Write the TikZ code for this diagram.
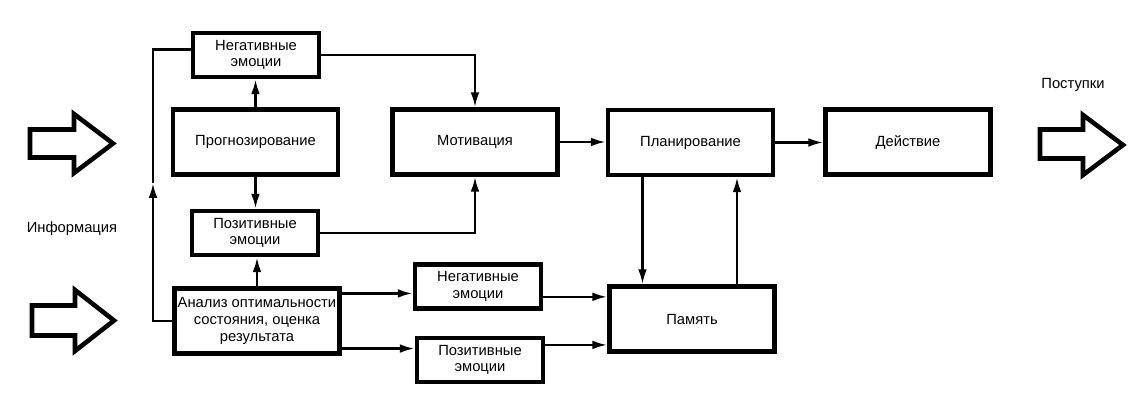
\documentclass[tikz,border=0pt]{standalone}
\usepackage{fontspec}
\setmainfont{Liberation Sans}
\usetikzlibrary{arrows.meta,positioning,calc}

\begin{document}
\begin{tikzpicture}[x=0.02cm, y=-0.02cm, >={Latex[length=8.5pt,width=5pt]},
  font={\fontsize{8.4}{9.5}\selectfont}]
  \tikzstyle{box}=[draw, line width=2.6pt, align=center, inner sep=1pt]
  \tikzstyle{big}=[box, minimum width=3.3cm, minimum height=1.3cm]
  \tikzstyle{small}=[box, minimum width=2.52cm, minimum height=0.88cm]
  \tikzstyle{wire}=[line width=1.4pt]
  \tikzstyle{fat}=[draw, line width=2.6pt, line join=miter]

  \useasboundingbox (0,0) rectangle (1140,415);

  % left column
  \node[small] (negT) at (256,55) {Негативные\\эмоции};
  \node[big] (prog) at (255.5,142) {Прогнозирование};
  \node[small] (posT) at (255,233) {Позитивные\\эмоции};
  \node[big] (anal) at (257,321) {Анализ оптимальности\\состояния, оценка\\результата};

  % middle and right
  \node[big] (mot) at (475,142) {Мотивация};
  \node[small] (negB) at (478,286.5) {Негативные\\эмоции};
  \node[small] (posB) at (480,360) {Позитивные\\эмоции};
  \node[big] (plan) at (690.5,142.5) {Планирование};
  \node[big] (act) at (908,142) {Действие};
  \node[big] (mem) at (692,319) {Память};

  \node (info) at (72,229) {Информация};
  \node (deeds) at (1073,85) {Поступки};

  % big hollow arrows
  \draw[fat] (30,129.5) -- (74,129.5) -- (74,114) -- (113,143.5) -- (74,173) -- (74,157.5) -- (30,157.5) -- cycle;
  \draw[fat] (32,305.5) -- (75,305.5) -- (75,290) -- (114,320.5) -- (75,351) -- (75,335.5) -- (32,335.5) -- cycle;
  \draw[fat] (1040,129.5) -- (1083,129.5) -- (1083,115) -- (1123,145) -- (1083,175) -- (1083,158.5) -- (1040,158.5) -- cycle;

  % connectors
  \draw[wire,->] (prog.north) -- (prog.north |- negT.south);
  \draw[wire,->] (prog.south) -- (prog.south |- posT.north);
  \draw[wire,->] (anal.north) -- (anal.north |- posT.south);
  \coordinate (fb) at (153,183);
  \draw[wire,->] (anal.west) -| (fb);
  \draw[wire] (fb) |- (negT.175);
  \draw[wire,->] (negT.east) -| (mot.north);
  \draw[wire,->] (posT.east) -| (mot.south);
  \draw[wire,->] (mot.east) -- (mot.east -| plan.west);
  \draw[wire,->] (plan.east) -- (plan.east -| act.west);
  \draw[wire,->] (anal.18.6) -- (anal.18.6 -| negB.west);
  \draw[wire,->] (anal.342.6) -- (anal.342.6 -| posB.west);
  \draw[wire,->] (negB.351) -- (negB.351 -| mem.west);
  \draw[wire,->] (posB.13) -- (posB.13 -| mem.west);
  \coordinate (pd) at ($(plan.south)+(-48,0)$);
  \coordinate (pu) at ($(mem.north)+(45,0)$);
  \draw[wire,->] (pd) -- (pd |- mem.north);
  \draw[wire,->] (pu) -- (pu |- plan.south);
\end{tikzpicture}
\end{document}
